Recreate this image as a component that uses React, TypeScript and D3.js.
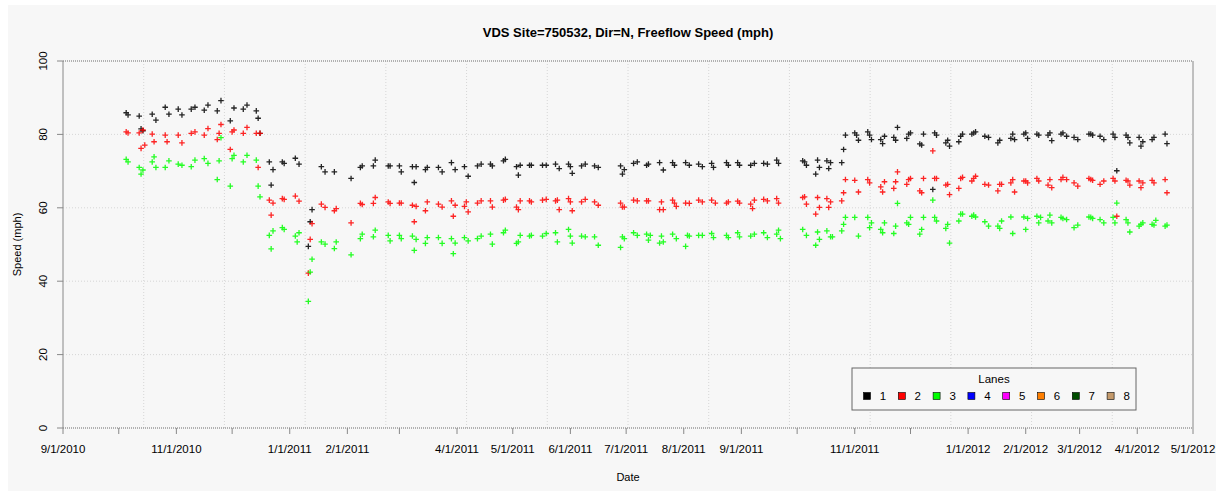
import React from 'react';
import * as d3 from 'd3';

// lane speeds: [date, mph]
const lane1: [string, number][] = [
  ['2010-10-05', 85.9], ['2010-10-06', 85.3], ['2010-10-12', 85.0], ['2010-10-13', 81.5], ['2010-10-14', 81.0],
  ['2010-10-19', 85.5], ['2010-10-21', 83.9], ['2010-10-26', 87.4], ['2010-10-28', 85.5], ['2010-11-02', 86.9],
  ['2010-11-04', 85.3], ['2010-11-09', 86.9], ['2010-11-11', 87.4], ['2010-11-16', 86.6], ['2010-11-18', 88.0],
  ['2010-11-23', 86.4], ['2010-11-25', 89.2], ['2010-11-30', 83.7], ['2010-12-02', 87.2], ['2010-12-07', 86.9],
  ['2010-12-09', 88.0], ['2010-12-14', 86.4], ['2010-12-15', 84.4], ['2010-12-16', 80.3], ['2010-12-21', 72.5],
  ['2010-12-22', 66.2], ['2010-12-23', 70.4], ['2010-12-28', 72.5], ['2010-12-29', 72.1], ['2011-01-04', 73.5],
  ['2011-01-06', 71.9], ['2011-01-11', 49.5], ['2011-01-12', 56.2], ['2011-01-13', 59.5], ['2011-01-18', 71.2],
  ['2011-01-20', 69.8], ['2011-01-25', 69.8], ['2011-02-03', 68.0], ['2011-02-08', 71.0], ['2011-02-09', 71.4],
  ['2011-02-15', 71.4], ['2011-02-16', 73.0], ['2011-02-23', 71.4], ['2011-02-24', 71.4], ['2011-03-01', 71.4],
  ['2011-03-02', 69.8], ['2011-03-08', 71.2], ['2011-03-09', 66.9], ['2011-03-10', 71.2], ['2011-03-15', 70.4],
  ['2011-03-16', 71.0], ['2011-03-22', 71.0], ['2011-03-24', 69.8], ['2011-03-29', 72.3], ['2011-03-31', 70.4],
  ['2011-04-05', 71.2], ['2011-04-07', 68.6], ['2011-04-12', 71.4], ['2011-04-14', 71.9], ['2011-04-19', 71.9],
  ['2011-04-20', 71.4], ['2011-04-26', 72.8], ['2011-04-27', 73.2], ['2011-05-03', 71.2], ['2011-05-04', 68.9],
  ['2011-05-05', 71.6], ['2011-05-10', 71.6], ['2011-05-11', 71.6], ['2011-05-17', 71.6], ['2011-05-19', 71.6],
  ['2011-05-24', 71.9], ['2011-05-26', 70.7], ['2011-05-31', 71.9], ['2011-06-01', 71.2], ['2011-06-02', 69.4],
  ['2011-06-07', 71.4], ['2011-06-09', 71.9], ['2011-06-14', 71.4], ['2011-06-16', 71.0], ['2011-06-28', 71.4],
  ['2011-06-29', 69.2], ['2011-06-30', 70.4], ['2011-07-05', 72.1], ['2011-07-07', 72.5], ['2011-07-12', 71.6],
  ['2011-07-13', 71.9], ['2011-07-19', 72.3], ['2011-07-21', 70.3], ['2011-07-26', 72.3], ['2011-07-27', 71.6],
  ['2011-08-02', 72.3], ['2011-08-04', 71.6], ['2011-08-09', 71.9], ['2011-08-11', 71.2], ['2011-08-16', 72.1],
  ['2011-08-17', 71.0], ['2011-08-24', 72.3], ['2011-08-25', 71.6], ['2011-08-30', 72.3], ['2011-08-31', 71.6],
  ['2011-09-06', 71.6], ['2011-09-08', 72.1], ['2011-09-13', 72.1], ['2011-09-15', 71.9], ['2011-09-20', 73.0],
  ['2011-09-21', 72.1], ['2011-10-04', 72.8], ['2011-10-05', 72.5], ['2011-10-06', 71.6], ['2011-10-11', 69.2],
  ['2011-10-12', 73.0], ['2011-10-13', 71.0], ['2011-10-17', 72.8], ['2011-10-18', 70.7], ['2011-10-19', 72.3],
  ['2011-10-25', 72.3], ['2011-10-26', 75.9], ['2011-10-27', 79.8], ['2011-11-01', 80.4], ['2011-11-02', 79.8],
  ['2011-11-03', 78.4], ['2011-11-08', 80.7], ['2011-11-09', 79.8], ['2011-11-10', 78.6], ['2011-11-15', 78.6],
  ['2011-11-16', 77.5], ['2011-11-17', 79.5], ['2011-11-22', 79.2], ['2011-11-23', 78.4], ['2011-11-24', 81.9],
  ['2011-11-29', 78.9], ['2011-11-30', 80.1], ['2011-12-01', 80.4], ['2011-12-06', 77.4], ['2011-12-07', 77.1],
  ['2011-12-08', 80.1], ['2011-12-13', 65.0], ['2011-12-14', 80.4], ['2011-12-15', 79.8], ['2011-12-20', 77.7],
  ['2011-12-21', 78.4], ['2011-12-22', 76.8], ['2011-12-27', 78.0], ['2011-12-28', 79.5], ['2011-12-29', 80.1],
  ['2012-01-03', 80.1], ['2012-01-04', 80.4], ['2012-01-05', 80.7], ['2012-01-10', 79.5], ['2012-01-12', 79.2],
  ['2012-01-17', 77.7], ['2012-01-18', 78.4], ['2012-01-24', 78.9], ['2012-01-25', 80.1], ['2012-01-26', 78.6],
  ['2012-01-31', 80.1], ['2012-02-01', 80.4], ['2012-02-02', 78.9], ['2012-02-07', 80.1], ['2012-02-08', 79.8],
  ['2012-02-13', 79.8], ['2012-02-14', 80.4], ['2012-02-15', 78.3], ['2012-02-20', 80.1], ['2012-02-21', 80.4],
  ['2012-02-23', 79.5], ['2012-02-27', 79.2], ['2012-02-29', 78.6], ['2012-03-06', 80.1], ['2012-03-07', 80.1],
  ['2012-03-08', 79.8], ['2012-03-12', 79.5], ['2012-03-14', 78.6], ['2012-03-19', 80.1], ['2012-03-20', 79.2],
  ['2012-03-21', 70.1], ['2012-03-26', 79.8], ['2012-03-27', 79.2], ['2012-03-28', 77.7], ['2012-04-02', 79.2],
  ['2012-04-03', 76.8], ['2012-04-04', 78.0], ['2012-04-09', 78.6], ['2012-04-10', 79.2], ['2012-04-16', 80.1],
  ['2012-04-17', 77.5],
];

const lane2: [string, number][] = [
  ['2010-10-05', 80.7], ['2010-10-06', 80.4], ['2010-10-12', 80.4], ['2010-10-13', 76.2], ['2010-10-14', 81.2],
  ['2010-10-15', 77.1], ['2010-10-19', 80.1], ['2010-10-20', 78.0], ['2010-10-26', 79.8], ['2010-10-27', 78.0],
  ['2010-11-02', 79.8], ['2010-11-04', 77.7], ['2010-11-09', 80.3], ['2010-11-11', 80.7], ['2010-11-16', 79.8],
  ['2010-11-18', 81.6], ['2010-11-23', 78.6], ['2010-11-24', 80.3], ['2010-11-25', 82.7], ['2010-11-30', 75.9],
  ['2010-12-01', 80.7], ['2010-12-02', 81.2], ['2010-12-07', 80.3], ['2010-12-09', 81.9], ['2010-12-14', 80.3],
  ['2010-12-15', 71.0], ['2010-12-16', 80.3], ['2010-12-21', 62.1], ['2010-12-22', 58.0], ['2010-12-23', 61.3],
  ['2010-12-28', 62.5], ['2010-12-29', 62.3], ['2011-01-04', 63.2], ['2011-01-06', 61.8], ['2011-01-11', 42.2],
  ['2011-01-12', 51.4], ['2011-01-13', 55.7], ['2011-01-18', 61.0], ['2011-01-20', 60.1], ['2011-01-25', 59.2],
  ['2011-01-26', 59.8], ['2011-02-03', 55.9], ['2011-02-08', 61.2], ['2011-02-09', 60.9], ['2011-02-15', 61.2],
  ['2011-02-16', 62.8], ['2011-02-23', 61.6], ['2011-02-24', 61.2], ['2011-03-01', 61.3], ['2011-03-02', 61.3],
  ['2011-03-08', 60.7], ['2011-03-09', 56.2], ['2011-03-10', 60.4], ['2011-03-15', 59.2], ['2011-03-16', 61.6],
  ['2011-03-22', 61.0], ['2011-03-24', 60.2], ['2011-03-29', 61.9], ['2011-03-30', 57.7], ['2011-03-31', 60.7],
  ['2011-04-05', 60.4], ['2011-04-06', 61.6], ['2011-04-07', 58.9], ['2011-04-12', 61.3], ['2011-04-14', 61.9],
  ['2011-04-19', 61.9], ['2011-04-20', 60.2], ['2011-04-26', 62.1], ['2011-04-27', 62.3], ['2011-05-03', 60.2],
  ['2011-05-04', 59.5], ['2011-05-05', 61.9], ['2011-05-10', 61.9], ['2011-05-11', 61.6], ['2011-05-17', 62.1],
  ['2011-05-19', 62.3], ['2011-05-24', 61.9], ['2011-05-25', 62.1], ['2011-05-26', 59.5], ['2011-05-31', 62.5],
  ['2011-06-01', 61.6], ['2011-06-02', 59.2], ['2011-06-07', 61.6], ['2011-06-09', 62.3], ['2011-06-14', 61.6],
  ['2011-06-16', 60.7], ['2011-06-28', 61.3], ['2011-06-29', 60.2], ['2011-06-30', 60.2], ['2011-07-05', 62.1],
  ['2011-07-07', 61.9], ['2011-07-12', 61.9], ['2011-07-13', 61.9], ['2011-07-19', 59.5], ['2011-07-20', 61.6],
  ['2011-07-21', 59.5], ['2011-07-26', 62.1], ['2011-07-27', 61.3], ['2011-07-28', 60.4], ['2011-08-02', 61.3],
  ['2011-08-04', 61.2], ['2011-08-09', 62.1], ['2011-08-11', 61.6], ['2011-08-16', 62.1], ['2011-08-18', 61.3],
  ['2011-08-24', 61.3], ['2011-08-25', 61.6], ['2011-08-30', 61.8], ['2011-08-31', 61.3], ['2011-09-06', 61.0],
  ['2011-09-07', 59.8], ['2011-09-08', 62.1], ['2011-09-13', 62.3], ['2011-09-15', 61.9], ['2011-09-20', 62.5],
  ['2011-09-21', 61.3], ['2011-10-04', 62.8], ['2011-10-05', 63.0], ['2011-10-06', 61.0], ['2011-10-11', 58.3],
  ['2011-10-12', 62.8], ['2011-10-13', 60.1], ['2011-10-17', 62.5], ['2011-10-18', 60.1], ['2011-10-19', 61.6],
  ['2011-10-25', 61.9], ['2011-10-26', 64.1], ['2011-10-27', 67.7], ['2011-11-01', 67.5], ['2011-11-03', 64.3],
  ['2011-11-08', 67.7], ['2011-11-09', 66.8], ['2011-11-15', 65.7], ['2011-11-16', 64.3], ['2011-11-17', 67.1],
  ['2011-11-22', 65.3], ['2011-11-23', 67.1], ['2011-11-24', 69.8], ['2011-11-29', 66.4], ['2011-11-30', 67.7],
  ['2011-12-01', 68.0], ['2011-12-06', 64.6], ['2011-12-07', 64.1], ['2011-12-08', 68.0], ['2011-12-13', 75.5],
  ['2011-12-14', 68.0], ['2011-12-15', 68.0], ['2011-12-20', 66.2], ['2011-12-21', 66.4], ['2011-12-22', 63.6],
  ['2011-12-27', 65.3], ['2011-12-28', 68.0], ['2011-12-29', 68.3], ['2012-01-03', 67.3], ['2012-01-04', 68.0],
  ['2012-01-05', 68.6], ['2012-01-10', 66.4], ['2012-01-12', 66.2], ['2012-01-17', 64.6], ['2012-01-18', 66.4],
  ['2012-01-19', 66.4], ['2012-01-24', 66.8], ['2012-01-25', 67.7], ['2012-01-26', 64.3], ['2012-01-31', 67.3],
  ['2012-02-01', 67.3], ['2012-02-02', 66.8], ['2012-02-07', 68.0], ['2012-02-08', 67.3], ['2012-02-13', 66.2],
  ['2012-02-14', 67.7], ['2012-02-15', 65.5], ['2012-02-20', 67.7], ['2012-02-21', 68.3], ['2012-02-23', 67.7],
  ['2012-02-27', 66.8], ['2012-02-29', 65.9], ['2012-03-06', 68.0], ['2012-03-07', 67.7], ['2012-03-08', 67.5],
  ['2012-03-12', 66.4], ['2012-03-14', 67.3], ['2012-03-19', 68.0], ['2012-03-20', 67.3], ['2012-03-21', 57.7],
  ['2012-03-26', 67.5], ['2012-03-27', 67.3], ['2012-03-28', 66.2], ['2012-04-02', 67.3], ['2012-04-03', 65.5],
  ['2012-04-04', 66.8], ['2012-04-09', 67.5], ['2012-04-10', 66.8], ['2012-04-16', 67.7], ['2012-04-17', 64.1],
];

const lane3: [string, number][] = [
  ['2010-10-05', 73.2], ['2010-10-06', 72.5], ['2010-10-12', 71.0], ['2010-10-13', 69.2], ['2010-10-14', 70.3],
  ['2010-10-19', 72.5], ['2010-10-20', 73.9], ['2010-10-21', 71.0], ['2010-10-26', 71.0], ['2010-10-28', 72.8],
  ['2010-11-02', 71.9], ['2010-11-04', 71.6], ['2010-11-09', 71.2], ['2010-11-11', 73.0], ['2010-11-16', 73.4],
  ['2010-11-18', 72.1], ['2010-11-23', 67.7], ['2010-11-24', 72.8], ['2010-11-25', 79.1], ['2010-11-30', 65.9],
  ['2010-12-01', 73.4], ['2010-12-02', 74.3], ['2010-12-07', 72.5], ['2010-12-09', 74.3], ['2010-12-14', 73.0],
  ['2010-12-15', 65.9], ['2010-12-16', 63.0], ['2010-12-21', 52.5], ['2010-12-22', 48.8], ['2010-12-23', 53.7],
  ['2010-12-28', 54.6], ['2010-12-29', 54.1], ['2011-01-04', 52.3], ['2011-01-05', 50.7], ['2011-01-06', 53.2],
  ['2011-01-11', 34.5], ['2011-01-12', 42.5], ['2011-01-13', 46.0], ['2011-01-18', 50.7], ['2011-01-20', 50.1],
  ['2011-01-25', 48.9], ['2011-01-26', 50.7], ['2011-02-03', 47.2], ['2011-02-08', 51.6], ['2011-02-09', 52.8],
  ['2011-02-15', 52.1], ['2011-02-16', 53.9], ['2011-02-23', 52.5], ['2011-02-24', 51.0], ['2011-03-01', 52.5],
  ['2011-03-02', 51.6], ['2011-03-08', 52.3], ['2011-03-09', 48.4], ['2011-03-10', 51.4], ['2011-03-15', 50.3],
  ['2011-03-16', 51.9], ['2011-03-22', 51.9], ['2011-03-24', 50.3], ['2011-03-29', 51.6], ['2011-03-30', 47.5],
  ['2011-03-31', 50.4], ['2011-04-05', 51.9], ['2011-04-07', 51.0], ['2011-04-12', 51.6], ['2011-04-14', 52.3],
  ['2011-04-19', 52.8], ['2011-04-20', 50.1], ['2011-04-26', 53.2], ['2011-04-27', 53.9], ['2011-05-03', 50.3],
  ['2011-05-04', 50.7], ['2011-05-05', 52.5], ['2011-05-10', 52.3], ['2011-05-11', 52.5], ['2011-05-17', 52.3],
  ['2011-05-19', 53.0], ['2011-05-24', 53.2], ['2011-05-25', 50.7], ['2011-05-31', 54.1], ['2011-06-01', 52.3],
  ['2011-06-02', 50.4], ['2011-06-07', 52.3], ['2011-06-09', 52.1], ['2011-06-14', 52.1], ['2011-06-16', 49.8],
  ['2011-06-28', 49.2], ['2011-06-29', 52.1], ['2011-06-30', 51.6], ['2011-07-05', 53.2], ['2011-07-07', 52.5],
  ['2011-07-12', 52.8], ['2011-07-13', 51.2], ['2011-07-14', 52.5], ['2011-07-19', 50.4], ['2011-07-20', 52.3],
  ['2011-07-21', 50.7], ['2011-07-26', 52.8], ['2011-07-28', 51.6], ['2011-08-02', 49.5], ['2011-08-03', 52.5],
  ['2011-08-04', 52.3], ['2011-08-09', 52.5], ['2011-08-11', 52.5], ['2011-08-16', 53.0], ['2011-08-17', 51.9],
  ['2011-08-24', 52.5], ['2011-08-25', 51.9], ['2011-08-30', 53.2], ['2011-08-31', 52.1], ['2011-09-06', 52.3],
  ['2011-09-08', 52.8], ['2011-09-13', 53.2], ['2011-09-15', 51.9], ['2011-09-20', 52.8], ['2011-09-21', 53.9],
  ['2011-09-22', 51.6], ['2011-10-04', 54.1], ['2011-10-06', 52.5], ['2011-10-11', 49.8], ['2011-10-12', 53.4],
  ['2011-10-13', 51.4], ['2011-10-17', 53.7], ['2011-10-19', 52.1], ['2011-10-20', 52.1], ['2011-10-25', 53.7],
  ['2011-10-26', 55.5], ['2011-10-27', 57.4], ['2011-11-01', 57.4], ['2011-11-03', 52.3], ['2011-11-08', 57.4],
  ['2011-11-09', 54.6], ['2011-11-10', 55.9], ['2011-11-15', 54.1], ['2011-11-16', 53.2], ['2011-11-17', 55.9],
  ['2011-11-22', 53.0], ['2011-11-23', 55.0], ['2011-11-24', 61.2], ['2011-11-29', 55.9], ['2011-11-30', 55.5],
  ['2011-12-01', 57.4], ['2011-12-06', 52.8], ['2011-12-07', 54.1], ['2011-12-08', 57.4], ['2011-12-13', 62.1],
  ['2011-12-14', 57.4], ['2011-12-15', 56.4], ['2011-12-20', 54.4], ['2011-12-21', 55.5], ['2011-12-22', 50.4],
  ['2011-12-27', 56.4], ['2011-12-28', 58.3], ['2011-12-29', 58.3], ['2012-01-03', 57.7], ['2012-01-04', 58.0],
  ['2012-01-05', 57.5], ['2012-01-10', 56.2], ['2012-01-12', 55.0], ['2012-01-17', 55.0], ['2012-01-18', 54.4],
  ['2012-01-19', 56.4], ['2012-01-24', 57.5], ['2012-01-25', 53.0], ['2012-01-31', 57.5], ['2012-02-01', 54.1],
  ['2012-02-02', 57.1], ['2012-02-07', 57.7], ['2012-02-08', 55.9], ['2012-02-09', 57.4], ['2012-02-13', 56.4],
  ['2012-02-14', 58.0], ['2012-02-15', 55.9], ['2012-02-20', 57.4], ['2012-02-21', 57.1], ['2012-02-23', 56.8],
  ['2012-02-27', 54.6], ['2012-02-29', 55.3], ['2012-03-06', 57.5], ['2012-03-07', 57.4], ['2012-03-08', 57.1],
  ['2012-03-12', 56.8], ['2012-03-14', 55.9], ['2012-03-19', 57.4], ['2012-03-20', 55.9], ['2012-03-21', 61.3],
  ['2012-03-26', 56.8], ['2012-03-27', 55.9], ['2012-03-28', 53.4], ['2012-04-02', 55.0], ['2012-04-03', 55.5],
  ['2012-04-04', 55.9], ['2012-04-09', 55.5], ['2012-04-10', 55.3], ['2012-04-11', 56.6], ['2012-04-16', 55.0],
  ['2012-04-17', 55.3],
];

const laneNames = ['1', '2', '3', '4', '5', '6', '7', '8'];
const laneColors = ['#000000', '#ff0000', '#00ff00', '#0000ff', '#ff00ff', '#ff7f00', '#004d00', '#c49a6c'];
const yTicks = [0, 20, 40, 60, 80, 100];
// R drops the labels that would overlap, so some month ticks stay blank
const xTickLabels = [
  '9/1/2010', '', '11/1/2010', '', '1/1/2011', '2/1/2011', '', '4/1/2011', '5/1/2011', '6/1/2011',
  '7/1/2011', '8/1/2011', '9/1/2011', '', '11/1/2011', '', '1/1/2012', '2/1/2012', '3/1/2012', '4/1/2012', '5/1/2012',
];

const parse = d3.timeParse('%Y-%m-%d');
const font = 'Liberation Sans, Arial, Helvetica, sans-serif';

const App = () => {
  const width = 1224, height = 496;
  const left = 63, right = 1193, top = 61, bottom = 428;
  const start = parse('2010-09-01')!, end = parse('2012-05-01')!;

  const x = d3.scaleTime().domain([start, end]).range([left, right]);
  const y = d3.scaleLinear().domain([0, 100]).range([bottom, top]);

  const months = d3.timeMonth.range(start, d3.timeDay.offset(end, 1));
  const gridX = d3.range(1, 14).map(i => left + (i * (right - left)) / 14);
  const lanes = [lane1, lane2, lane3];
  const cross = 2.8;

  return (
    <svg width={width} height={height} style={{ position: 'absolute', left: 0, top: 0, background: '#fff' }}>
      <rect x={8} y={5} width={1208} height={486} fill="#f7f7f7" />
      <text x={(left + right) / 2} y={37} textAnchor="middle" fontFamily={font} fontSize={13} fontWeight="bold">
        VDS Site=750532, Dir=N, Freeflow Speed (mph)
      </text>

      {/* grid */}
      <g stroke="#d6d6d6" strokeWidth={1} strokeDasharray="1,2">
        {gridX.map((gx, i) => <line key={'gx' + i} x1={gx} x2={gx} y1={top} y2={bottom} />)}
        {yTicks.slice(1, -1).map(t => <line key={'gy' + t} x1={left} x2={right} y1={y(t)} y2={y(t)} />)}
      </g>
      <g stroke="#9a9a9a" strokeWidth={1.5} strokeDasharray="1,1">
        <line x1={left} x2={right} y1={y(100)} y2={y(100)} />
        <line x1={left} x2={right} y1={y(0)} y2={y(0)} />
      </g>
      <line x1={left} x2={left} y1={top} y2={bottom} stroke="#888" />
      <line x1={right} x2={right} y1={top} y2={bottom} stroke="#888" />

      {/* y axis */}
      <g fontFamily={font} fontSize={11.5} fill="#000">
        {yTicks.map(t => (
          <g key={'yt' + t} transform={`translate(${left}, ${y(t)})`}>
            <line x1={-6} x2={0} stroke="#888" />
            <text transform="translate(-16, 0) rotate(-90)" textAnchor="middle">{t}</text>
          </g>
        ))}
        <text transform={`translate(21, ${(top + bottom) / 2}) rotate(-90)`} textAnchor="middle" fontSize={11}>Speed (mph)</text>
      </g>

      {/* x axis */}
      <g fontFamily={font} fontSize={11.5} fill="#000">
        {months.map((m, i) => (
          <g key={'xt' + i} transform={`translate(${x(m)}, ${bottom})`}>
            <line y1={0} y2={6} stroke="#888" />
            {xTickLabels[i] ? <text y={25} textAnchor="middle">{xTickLabels[i]}</text> : null}
          </g>
        ))}
        <text x={(left + right) / 2} y={481} textAnchor="middle" fontSize={11}>Date</text>
      </g>

      {/* points */}
      {lanes.map((lane, li) => (
        <g key={'lane' + li} stroke={laneColors[li]} strokeWidth={1.3} fill="none" opacity={0.85}>
          {lane.map(([d, v], i) => {
            const px = x(parse(d)!), py = y(v);
            return <path key={i} d={`M${px - cross},${py}H${px + cross}M${px},${py - cross}V${py + cross}`} />;
          })}
        </g>
      ))}

      {/* legend */}
      <g fontFamily={font} fontSize={11.5}>
        <rect x={852} y={368} width={284} height={42} fill="#f7f7f7" stroke="#666" />
        <text x={994} y={383} textAnchor="middle">Lanes</text>
        {laneNames.map((n, i) => (
          <g key={'lg' + i} transform={`translate(${867 + i * 34.8}, 396)`}>
            <rect x={-3.5} y={-3.5} width={7} height={7} fill={laneColors[i]} stroke="#000" strokeWidth={0.6} />
            <text x={16} y={4} textAnchor="middle">{n}</text>
          </g>
        ))}
      </g>
    </svg>
  );
};

export default App;
